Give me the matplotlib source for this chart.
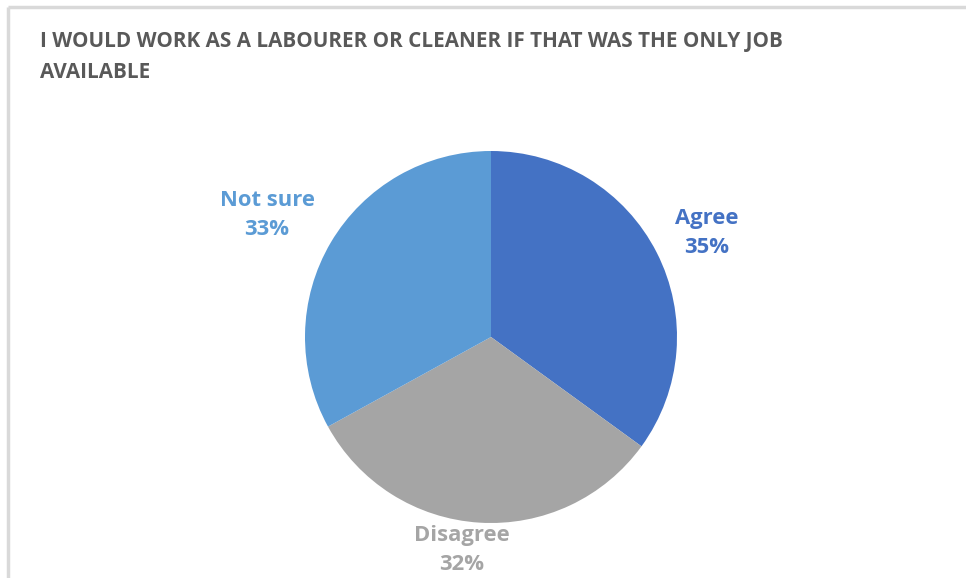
import matplotlib.pyplot as plt

# survey answers
labels = ['Agree', 'Disagree', 'Not sure']
shares = [35, 32, 33]
colors = ['#4472C4', '#A5A5A5', '#5B9BD5']

title = 'I WOULD WORK AS A LABOURER OR CLEANER IF THAT WAS THE ONLY JOB\nAVAILABLE'

W, H = 966, 578
fig = plt.figure(figsize=(W / 100, H / 100), dpi=100)
ax = fig.add_axes([0, 0, 1, 1])

# chart frame (only top and left edges visible)
ax.plot([8, W], [H - 7, H - 7], color='#D9D9D9', lw=2.5, solid_capstyle='butt')
ax.plot([8, 8], [0, H - 7], color='#D9D9D9', lw=2.5, solid_capstyle='butt')

cx, cy, r = 491, H - 337, 186
wedges, _ = ax.pie(shares, colors=colors, startangle=90, counterclock=False,
                   center=(cx, cy), radius=r, frame=True)
ax.set_xlim(0, W)
ax.set_ylim(0, H)
ax.set_aspect('auto')
ax.axis('off')

# data labels placed outside the slices
label_pos = {'Agree': (707, 233), 'Disagree': (462, 550), 'Not sure': (267, 215)}
for lab, val, col in zip(labels, shares, colors):
    x, y = label_pos[lab]
    ax.text(x, H - y, f'{lab}\n{val}%', color=col, fontsize=15.8, fontweight='bold',
            family='Open Sans', ha='center', va='center', linespacing=1.55)

ax.text(40, H - 31, title, color='#595959', fontsize=14.9, fontweight='bold',
        family='Open Sans', ha='left', va='top', linespacing=1.6)

fig.savefig('out.png', dpi=100)
